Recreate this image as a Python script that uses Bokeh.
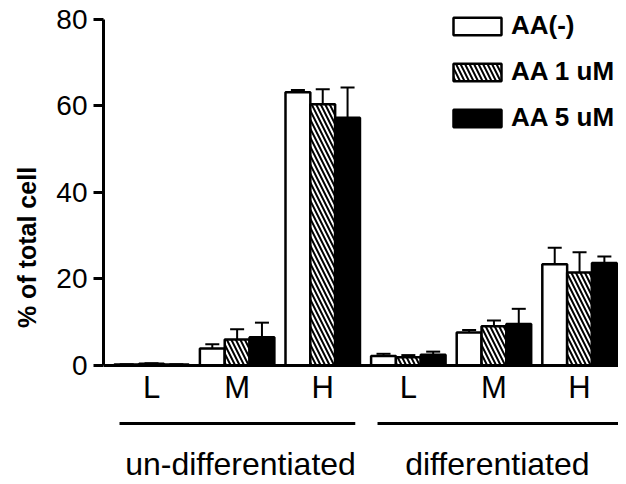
from bokeh.plotting import figure
from bokeh.models import (ColumnDataSource, Range1d, FixedTicker, Whisker, TeeHead)
from bokeh.core.properties import value
from bokeh.embed import file_html
from bokeh.resources import INLINE

# ---- data ----
groups = ["un-differentiated", "differentiated"]
levels = ["L", "M", "H"]
series = ["AA(-)", "AA 1 uM", "AA 5 uM"]
aa_neg = [0.2, 3.9, 63.2, 2.2, 7.6, 23.4]
aa_neg_err = [0.1, 1.0, 0.5, 0.5, 0.6, 3.8]
aa_1 = [0.4, 6.0, 60.4, 1.9, 9.1, 21.5]
aa_1_err = [0.1, 2.4, 3.5, 0.5, 1.3, 4.7]
aa_5 = [0.2, 6.5, 57.3, 2.5, 9.6, 23.7]
aa_5_err = [0.1, 3.4, 7.0, 0.7, 3.5, 1.5]
y_ticks = [0, 20, 40, 60, 80]

FONT = "Liberation Sans"
n = len(aa_neg)
centers = list(range(n))
bw = 0.29
x_start, x_end = -0.561, 5.455

p = figure(width=618, height=484, output_backend="svg", toolbar_location=None,
           x_range=Range1d(x_start, x_end), y_range=Range1d(-27.52, 82.08),
           x_axis_location=None, min_border_left=103, min_border_right=0,
           min_border_top=10, min_border_bottom=0)
p.outline_line_color = None
p.xgrid.visible = False
p.ygrid.visible = False
p.background_fill_color = "white"

styles = [
    dict(fill_color="white"),
    dict(fill_color="white", hatch_pattern="\\", hatch_color="black", hatch_weight=2, hatch_scale=9),
    dict(fill_color="black"),
]
vals = [aa_neg, aa_1, aa_5]
errs = [aa_neg_err, aa_1_err, aa_5_err]
for j, (v, e, name, st) in enumerate(zip(vals, errs, series, styles)):
    xs = [c + (j - 1) * bw for c in centers]
    src = ColumnDataSource(dict(x=xs, top=v, upper=[a + b for a, b in zip(v, e)]))
    p.vbar(x="x", top="top", bottom=0, width=bw, source=src, line_color="black",
           line_width=2.5, legend_label=name, **st)
    w = Whisker(base="x", lower="top", upper="upper", source=src, dimension="height",
                line_color="black", line_width=2, lower_head=None,
                upper_head=TeeHead(size=14, line_width=2, line_color="black"))
    p.add_layout(w)

# baseline (x axis line)
p.segment(x0=[x_start], y0=[0], x1=[x_end], y1=[0], line_color="black", line_width=3)

# level labels
p.text(x=centers, y=[-5.0] * n, text=levels * 2, text_font=value(FONT), text_font_size="31px",
       text_align="center", text_baseline="middle", text_color="black")

# group lines and labels
gx0 = [-0.374, 2.64]
gx1 = [2.38, 5.455]
p.segment(x0=gx0, y0=[-13.4, -13.4], x1=gx1, y1=[-13.4, -13.4], line_color="black", line_width=3)
p.text(x=[1.04, 4.04], y=[-22.7, -22.7], text=groups, text_font=value(FONT), text_font_size="32px",
       text_align="center", text_baseline="middle", text_color="black")

# y axis
ya = p.yaxis[0]
ya.bounds = (0, 80)
ya.ticker = FixedTicker(ticks=y_ticks)
ya.minor_tick_line_color = None
ya.major_tick_in = 0
ya.major_tick_out = 10
ya.major_tick_line_width = 3
ya.axis_line_width = 3
ya.axis_line_color = "black"
ya.major_tick_line_color = "black"
ya.major_label_text_font = FONT
ya.major_label_text_font_size = "28px"
ya.major_label_text_color = "black"
ya.major_label_standoff = 6
ya.axis_label = "% of total cell"
ya.axis_label_text_font = FONT
ya.axis_label_text_font_size = "25px"
ya.axis_label_text_font_style = "bold"
ya.axis_label_text_color = "black"
ya.axis_label_standoff = 12

lg = p.legend[0]
lg.location = "top_right"
lg.margin = 0
lg.padding = 0
lg.border_line_color = None
lg.background_fill_alpha = 0
lg.glyph_width = 60
lg.glyph_height = 22
lg.label_standoff = 4
lg.label_width = 107
lg.spacing = 15
lg.label_text_font = FONT
lg.label_text_font_size = "26px"
lg.label_text_font_style = "bold"
lg.label_text_color = "black"

open("out.html", "w").write(file_html(p, INLINE))
